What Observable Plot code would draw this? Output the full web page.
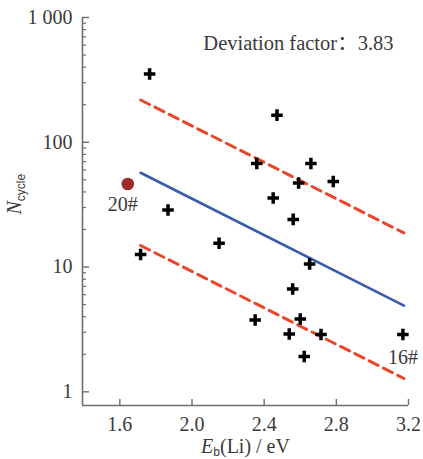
<!DOCTYPE html>
<html lang="en">
<head>
<meta charset="utf-8">
<script src="https://cdn.jsdelivr.net/npm/d3@7"></script>
<script src="https://cdn.jsdelivr.net/npm/@observablehq/plot@0.6"></script>
<style>
  html, body { margin: 0; padding: 0; background: #fff; }
  svg text { font-family: "Liberation Serif", "DejaVu Serif", serif; }
</style>
</head>
<body>
<div id="chart"></div>
<script>
// Data
const plusE = [1.765, 2.471, 2.359, 2.659, 2.591, 2.783, 2.45, 2.561, 1.867, 2.15, 1.715, 2.652, 2.558, 2.35, 2.6, 2.539, 2.715, 2.622, 3.169];
const plusN = [352, 165, 67.7, 67.7, 47.2, 48.5, 35.7, 24.1, 28.7, 15.5, 12.6, 10.6, 6.68, 3.77, 3.84, 2.91, 2.88, 1.92, 2.88];
const outlierE = [1.644];
const outlierN = [46.3];
const outlierLabel = ["20#"];
const labelledE = [3.169];
const labelledN = [2.88];
const labelledText = ["16#"];
const fitE = [1.715, 3.175];
const fitN = [57, 4.9];
const deviationFactor = 3.83;
const xTicks = [1.6, 2.0, 2.4, 2.8, 3.2];
const xTickLabels = ["1.6", "2.0", "2.4", "2.8", "3.2"];
const yTicks = [1, 10, 100, 1000];
const yTickLabels = ["1", "10", "100", "1 000"];
const yMinor = [2,3,4,5,6,7,8,9,20,30,40,50,60,70,80,90,200,300,400,500,600,700,800,900];
const xDomain = [1.393, 3.2];
const yDomain = [0.777, 1000];

const points = plusE.map((e, i) => ({E: e, N: plusN[i]}));
const outlier = outlierE.map((e, i) => ({E: e, N: outlierN[i], label: outlierLabel[i]}));
const labelled = labelledE.map((e, i) => ({E: e, N: labelledN[i], label: labelledText[i]}));
const fit = fitE.map((e, i) => ({E: e, N: fitN[i]}));
const upper = fit.map(d => ({E: d.E, N: d.N * deviationFactor}));
const lower = fit.map(d => ({E: d.E, N: d.N / deviationFactor}));

const W = 423, H = 459, mL = 82, mR = 15, mT = 17, mB = 54;
const innerW = W - mL - mR, innerH = H - mT - mB;
const axisColor = "#6e6e6e";
const textColor = "#3a3a3a";
const serif = "'Liberation Serif', 'DejaVu Serif', serif";

const chart = Plot.plot({
  width: W, height: H,
  marginLeft: mL, marginRight: mR, marginTop: mT, marginBottom: mB,
  style: {fontFamily: serif, fontSize: "20px", color: textColor, background: "#fff"},
  x: {domain: xDomain},
  y: {type: "log", domain: yDomain},
  marks: [
    // axis lines
    Plot.ruleX([xDomain[0]], {stroke: axisColor, strokeWidth: 1.6}),
    Plot.ruleY([yDomain[0]], {stroke: axisColor, strokeWidth: 1.6}),
    // inward ticks
    Plot.tickY(yTicks, {y: d => d, stroke: axisColor, strokeWidth: 1.4, insetRight: innerW - 7}),
    Plot.tickY(yMinor, {y: d => d, stroke: axisColor, strokeWidth: 1.2, insetRight: innerW - 4}),
    Plot.tickX(xTicks, {x: d => d, stroke: axisColor, strokeWidth: 1.4, insetTop: innerH - 6}),
    // tick labels
    Plot.axisY({ticks: yTicks, tickSize: 0, tickPadding: 10, tickFormat: (d) => yTickLabels[yTicks.indexOf(d)], label: null, fill: textColor, fontSize: 20}),
    Plot.axisX({ticks: xTicks, tickSize: 0, tickPadding: 11, tickFormat: (d) => xTickLabels[xTicks.indexOf(d)], label: null, fill: textColor, fontSize: 20}),
    // fit lines
    Plot.line(upper, {x: "E", y: "N", stroke: "#e8472c", strokeWidth: 3, strokeDasharray: "10,6"}),
    Plot.line(lower, {x: "E", y: "N", stroke: "#e8472c", strokeWidth: 3, strokeDasharray: "10,6"}),
    Plot.line(fit, {x: "E", y: "N", stroke: "#3a5cb0", strokeWidth: 2.6}),
    // points
    Plot.dot(points, {x: "E", y: "N", symbol: "plus", r: 3.8, stroke: "#000", strokeWidth: 3.5}),
    Plot.dot(outlier, {x: "E", y: "N", r: 6.3, fill: "#9e2b25", stroke: null}),
    Plot.text(outlier, {x: "E", y: "N", text: "label", dx: -5, dy: 21, fill: textColor, fontSize: 20}),
    Plot.text(labelled, {x: "E", y: "N", text: "label", dx: 0, dy: 23, fill: textColor, fontSize: 20}),
    // annotation
    Plot.text([`Deviation factor：${deviationFactor}`], {frameAnchor: "top-right", dx: -15, dy: 26, lineAnchor: "middle", textAnchor: "end", fill: textColor, fontSize: 20.5}),
    // axis titles
    Plot.text(["NYTITLE"], {frameAnchor: "left", dx: -68, dy: 3, rotate: -90, fill: textColor, fontSize: 20}),
    Plot.text(["XTITLE"], {frameAnchor: "bottom", dy: 41, lineAnchor: "middle", fill: textColor, fontSize: 20})
  ]
});

// serif font everywhere, rich formatting of axis titles (italic symbol + subscript)
d3.select(chart).attr("font-family", serif);
d3.select(chart).selectAll("g").attr("font-family", serif);
d3.select(chart).selectAll("text").each(function() {
  const t = d3.select(this);
  t.attr("font-family", serif);
  const s = this.textContent;
  if (s.startsWith("Deviation")) {
    const parts = s.split("：");
    t.text(null);
    t.append("tspan").text(parts[0]);
    t.append("tspan").attr("font-family", "'Noto Sans CJK SC'").attr("lang", "zh-CN").attr("xml:lang", "zh-CN").text("：");
    t.append("tspan").text(parts[1]);
  } else if (s === "NYTITLE") {
    t.text(null);
    t.append("tspan").attr("font-style", "italic").text("N");
    t.append("tspan").attr("font-family", "'Liberation Sans', sans-serif").attr("font-size", 12).attr("dy", 4).text("cycle");
  } else if (s === "XTITLE") {
    t.text(null);
    t.append("tspan").attr("font-style", "italic").text("E");
    t.append("tspan").attr("font-family", "'Liberation Sans', sans-serif").attr("font-size", 12).attr("dy", 3).text("b");
    t.append("tspan").attr("dy", -3).text("(Li) / eV");
  }
});

document.getElementById("chart").appendChild(chart);
</script>
</body>
</html>
